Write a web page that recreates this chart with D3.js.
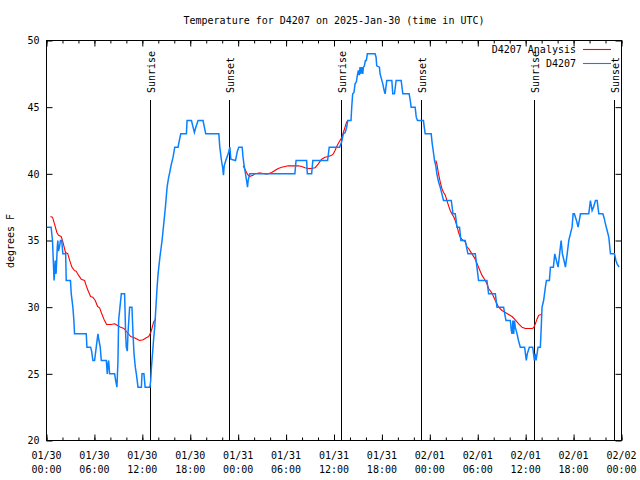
<!DOCTYPE html>
<html><head><meta charset="utf-8">
<script src="https://cdn.jsdelivr.net/npm/d3@7"></script>
<style>
body{margin:0;background:#fff}
svg{display:block}
text{font-family:"DejaVu Sans Mono","Liberation Mono",monospace;font-size:10px;fill:#000}
</style>
</head><body>
<svg id="chart" width="640" height="480"></svg>
<script>
// ---------- data ----------
const titleText = "Temperature for D4207 on 2025-Jan-30 (time in UTC)";
const yAxisLabel = "degrees F";
const seriesNames = ["D4207 Analysis", "D4207"];
const seriesColors = ["#ff0000", "#0a80ff"];
const yTickValues = [20, 25, 30, 35, 40, 45, 50];
const startTime = "2025-01-30T00:00:00Z";
const endTime = "2025-02-02T00:00:00Z";

// sun events, hours after start
const sunEventNames = ["Sunrise", "Sunset", "Sunrise", "Sunset", "Sunrise", "Sunset"];
const sunEventHours = [12.98, 22.87, 36.92, 46.95, 61.0, 71.04];

// observed station temperature: [hours after start, degrees F]
const observedD4207 = [
 [0,36],[0.58,36],[0.75,35],[0.95,32],[1.1,33.5],[1.2,32.5],[1.35,34.5],[1.42,35],[1.5,34.2],[1.62,34.5],[1.75,35],[1.9,35],
 [2.05,34],[2.4,34],[2.47,32],[3.0,32],[3.1,31],[3.3,30],[3.43,29],[3.51,28],[4.98,28],[5.06,27],[5.52,27],[5.65,26.7],
 [5.81,26],[6.02,26],[6.23,27],[6.44,28],[6.57,27.5],[6.73,27],[6.86,26],[7.49,26],[7.61,25],[7.69,25.7],[7.78,26],[7.9,25],
 [8.53,25],[8.66,24.5],[8.82,24],[8.95,26],[9.03,29],[9.2,30],[9.37,31],[9.78,31],[9.91,28],[9.99,27],[10.12,26.7],[10.2,28],
 [10.41,30],[10.7,30],[10.83,28],[10.96,26.5],[11.12,25.5],[11.25,25],[11.46,24],[11.88,24],[11.96,25],[12.2,25],[12.35,24],[12.95,24],
 [13.05,24.5],[13.13,25.4],[13.4,27.5],[13.55,28.5],[13.65,29.5],[13.75,30.5],[13.85,31.5],[13.97,32.5],[14.2,33.75],[14.47,35],
 [14.68,36.25],[14.89,37.5],[15.1,39],[15.3,39.75],[15.43,40.1],[15.64,40.75],[15.85,41.25],[16.06,42],[16.47,42],[16.6,42.4],
 [16.81,43],[17.52,43],[17.6,44],[18.15,44],[18.35,43.5],[18.52,43.1],[18.7,43.5],[18.98,44],[19.6,44],[19.94,43],[21.58,43],
 [21.7,42],[21.91,41],[22.05,40.5],[22.16,39.9],[22.25,40.6],[22.45,41],[22.75,41.5],[22.96,42],[23.08,41.1],[23.67,41],
 [23.9,41.7],[24.08,42],[24.5,42],[24.6,41.3],[24.75,40.6],[24.92,40],[25.05,39.5],[25.17,39],[25.25,39.5],[25.46,40],
 [31.1,40],[31.25,41],[32.57,41],[32.66,40],[33.2,40],[33.35,41],[35.2,41],[35.4,42],[36.7,42],[36.96,42.4],[37.17,43],
 [37.4,43.1],[37.59,43.5],[37.72,44],[38.13,44],[38.22,45],[38.34,46],[38.5,46.1],[38.64,46.75],[38.8,46.9],[38.93,47.4],
 [39.05,47.75],[39.18,47.4],[39.26,48],[39.35,47.5],[39.47,48],[39.6,47.5],[39.68,48],[39.8,48.1],[39.93,48.5],[40.05,48.5],
 [40.18,49],[41.14,49],[41.27,48.75],[41.35,48.1],[41.69,48],[41.77,47.5],[41.95,47.1],[42.11,46.75],[42.28,46.25],[42.4,46],
 [42.61,47],[43.24,47],[43.36,46],[43.57,46],[43.78,47],[44.41,47],[44.62,46],[45.41,46],[45.55,45.5],[45.66,45],[46.16,45],
 [46.3,44.25],[46.45,44],[47.2,44],[47.3,43.5],[47.42,43],[48.17,43],[48.3,42.25],[48.42,41.75],[48.59,41],[48.75,40.6],
 [48.88,40],[49.09,39.4],[49.3,39],[49.51,38.5],[49.71,38],[50.68,38],[50.8,37.5],[50.89,37],[51.18,37],[51.3,36.5],[51.39,36],
 [51.72,36],[51.89,35],[52.43,35],[52.6,34.5],[52.77,34],[53.69,34],[53.9,33],[54.1,32],[55.15,32],[55.36,31],[56.2,31],
 [56.41,30],[57.24,30],[57.45,29.25],[57.54,29],[58.08,29],[58.2,28.25],[58.29,28],[58.4,29],[58.5,28],[58.6,29],[58.7,28.5],
 [58.92,28],[59.1,27.5],[59.33,27],[59.87,27],[60.08,26],[60.2,26.5],[60.46,27],[60.88,27],[61.09,26],[61.2,26.5],[61.3,26],
 [61.55,27],[61.84,27],[61.95,28.5],[62.05,30],[62.25,30.5],[62.47,31.5],[62.6,32],[62.97,32],[63.1,33],[63.47,33],[63.64,34],
 [63.85,33.5],[64.06,33],[64.25,34],[64.44,35],[64.6,34],[64.8,33.5],[64.98,33],[65.2,34],[65.4,35],[65.6,35.5],[65.81,36],
 [65.94,37],[66.1,37],[66.36,36.5],[66.57,36],[66.86,37],[67.9,37],[68.11,38],[68.32,37.25],[68.5,37.5],[68.74,38],[68.95,38],
 [69.16,37],[69.66,37],[69.8,36.75],[69.99,36.25],[70.2,35.75],[70.41,35.25],[70.62,34],[71.12,34],[71.3,33.5],[71.45,33.25],[71.7,33]
];

// analysis temperature (three separate runs): [hours after start, degrees F]
const analysisRun1 = [
 [0.5,36.8],[0.75,36.75],[1.0,36.25],[1.3,35.6],[1.5,35.4],[1.84,35.3],[2.05,34.9],[2.38,34.1],[2.67,34],[2.88,33.55],
 [3.18,33],[3.5,32.75],[3.72,32.7],[4.0,32.4],[4.35,32.1],[4.77,32],[4.98,31.6],[5.2,31.25],[5.52,30.8],[5.8,30.75],
 [6.1,30.5],[6.4,30.05],[6.65,29.95],[6.86,29.6],[7.19,29.1],[7.53,28.7],[8.1,28.7],[8.53,28.75],[8.95,28.6],[9.28,28.5],
 [9.7,28.4],[10.12,28.1],[10.54,27.8],[11.0,27.7],[11.67,27.5],[12.1,27.55],[12.5,27.7],[12.8,27.8],[13.05,28.1],[13.2,28.4],
 [13.42,28.9],[13.67,29.1]
];
const analysisRun2 = [
 [24.63,40.6],[24.85,40.35],[25.05,40.1],[25.25,39.9],[25.46,39.8],[25.67,39.85],[25.88,39.9],[26.09,40],[26.5,40.05],
 [26.9,40.05],[27.35,40],[27.76,40],[28.2,40.1],[28.6,40.25],[29.02,40.4],[29.44,40.5],[29.86,40.55],[30.28,40.6],[30.7,40.6],
 [31.1,40.6],[31.53,40.6],[31.95,40.55],[32.36,40.45],[32.78,40.4],[33.2,40.4],[33.62,40.45],[34.04,40.75],[34.45,41.1],
 [34.87,41.25],[35.3,41.3],[35.71,41.4],[35.92,41.5],[36.13,41.75],[36.34,42.05],[36.55,42.3],[36.75,42.5],[36.96,42.7],
 [37.17,43.1],[37.38,43.5],[37.59,43.9],[37.8,44]
];
const analysisRun3 = [
 [48.75,41],[48.88,40.75],[49.09,40],[49.3,39.4],[49.51,38.9],[49.72,38.6],[49.93,38.4],[50.14,38],[50.35,37.6],[50.55,37.25],
 [50.76,37],[50.97,36.8],[51.18,36.5],[51.39,36.1],[51.6,35.6],[51.8,35.25],[52.0,35.1],[52.43,34.9],[52.64,34.55],[52.85,34.4],
 [53.27,34],[53.69,33.6],[54.1,33],[54.52,32.4],[54.94,32],[55.15,31.75],[55.36,31.4],[55.78,31.05],[56.2,30.5],[56.61,30],
 [57.03,29.75],[57.45,29.6],[57.87,29.45],[58.29,29.3],[58.7,29.05],[59.12,28.75],[59.54,28.5],[59.96,28.4],[60.38,28.4],
 [60.8,28.4],[61.0,28.45],[61.21,28.75],[61.42,29.1],[61.63,29.4],[61.97,29.45]
];

// ---------- drawing ----------
const svg = d3.select("#chart");
const plotLeft = 46.5, plotRight = 621.5, plotTop = 40.5, plotBottom = 440.5;
const t0 = new Date(startTime), t1 = new Date(endTime);
const x = d3.scaleUtc().domain([t0, t1]).range([plotLeft, plotRight]);
const y = d3.scaleLinear().domain([20, 50]).range([plotBottom, plotTop]);
const toDate = h => new Date(t0.getTime() + h * 3600e3);

// title
svg.append("text").attr("x", (plotLeft + plotRight) / 2).attr("y", 24)
  .attr("text-anchor", "middle").text(titleText);

// y label
svg.append("text").attr("transform", "translate(14,241) rotate(-90)")
  .attr("text-anchor", "middle").text(yAxisLabel);

// frame
svg.append("rect").attr("x", plotLeft).attr("y", plotTop)
  .attr("width", plotRight - plotLeft).attr("height", plotBottom - plotTop)
  .attr("fill", "none").attr("stroke", "#000").attr("stroke-width", 1);

const majorTicks = d3.utcHour.every(6).range(t0, new Date(t1.getTime() + 1));
const minorTicks = d3.utcHour.every(2).range(t0, new Date(t1.getTime() + 1));

function styleAxis(g) {
  g.select(".domain").remove();
  g.selectAll("line").attr("stroke", "#000");
  g.selectAll("text").attr("font-family", null).attr("font-size", null);
}
svg.append("g").attr("transform", `translate(0,${plotBottom})`)
  .call(d3.axisBottom(x).tickValues(minorTicks).tickSize(-3).tickFormat("")).call(styleAxis);
svg.append("g").attr("transform", `translate(0,${plotBottom})`)
  .call(d3.axisBottom(x).tickValues(majorTicks).tickSize(-6).tickFormat("")).call(styleAxis);
svg.append("g").attr("transform", `translate(0,${plotTop})`)
  .call(d3.axisTop(x).tickValues(minorTicks).tickSize(-3).tickFormat("")).call(styleAxis);
svg.append("g").attr("transform", `translate(0,${plotTop})`)
  .call(d3.axisTop(x).tickValues(majorTicks).tickSize(-6).tickFormat("")).call(styleAxis);

const fmtDay = d3.utcFormat("%m/%d"), fmtTime = d3.utcFormat("%H:%M");
const xl = svg.append("g");
majorTicks.forEach(d => {
  const t = xl.append("text").attr("text-anchor", "middle").attr("x", x(d));
  t.append("tspan").attr("x", x(d)).attr("y", 459).text(fmtDay(d));
  t.append("tspan").attr("x", x(d)).attr("y", 473).text(fmtTime(d));
});
svg.append("g").attr("transform", `translate(${plotLeft},0)`)
  .call(d3.axisLeft(y).tickValues(yTickValues).tickSize(-6).tickPadding(7).tickFormat(d3.format("d")))
  .call(styleAxis);
svg.append("g").attr("transform", `translate(${plotRight},0)`)
  .call(d3.axisRight(y).tickValues(yTickValues).tickSize(-6).tickFormat("")).call(styleAxis);

// sun event lines and labels
sunEventHours.forEach((h, i) => {
  const sx = Math.round(x(toDate(h))) + 0.5;
  svg.append("line").attr("x1", sx).attr("x2", sx).attr("y1", 100).attr("y2", plotBottom)
    .attr("stroke", "#000").attr("stroke-width", 1);
  svg.append("text").attr("transform", `translate(${sx + 4},93) rotate(-90)`)
    .attr("text-anchor", "start").text(sunEventNames[i]);
});

svg.append("clipPath").attr("id", "plotClip").append("rect")
  .attr("x", plotLeft).attr("y", plotTop).attr("width", plotRight - plotLeft).attr("height", plotBottom - plotTop);
const plot = svg.append("g").attr("clip-path", "url(#plotClip)");

const line = d3.line().x(d => x(toDate(d[0]))).y(d => y(d[1]));
[analysisRun1, analysisRun2, analysisRun3].forEach(run => {
  plot.append("path").datum(run).attr("d", line).attr("fill", "none")
    .attr("stroke", seriesColors[0]).attr("stroke-width", 1.1).attr("stroke-linejoin", "round");
});
plot.append("path").datum(observedD4207).attr("d", line).attr("fill", "none")
  .attr("stroke", seriesColors[1]).attr("stroke-width", 1.5).attr("stroke-linejoin", "miter");

const legendY = [49, 63];
seriesNames.forEach((name, i) => {
  svg.append("text").attr("x", 576).attr("y", legendY[i] + 4).attr("text-anchor", "end").text(name);
  svg.append("line").attr("x1", 583).attr("x2", 611).attr("y1", legendY[i] + 0.5).attr("y2", legendY[i] + 0.5)
    .attr("stroke", seriesColors[i]).attr("stroke-width", 1.1);
});
</script>
</body></html>
